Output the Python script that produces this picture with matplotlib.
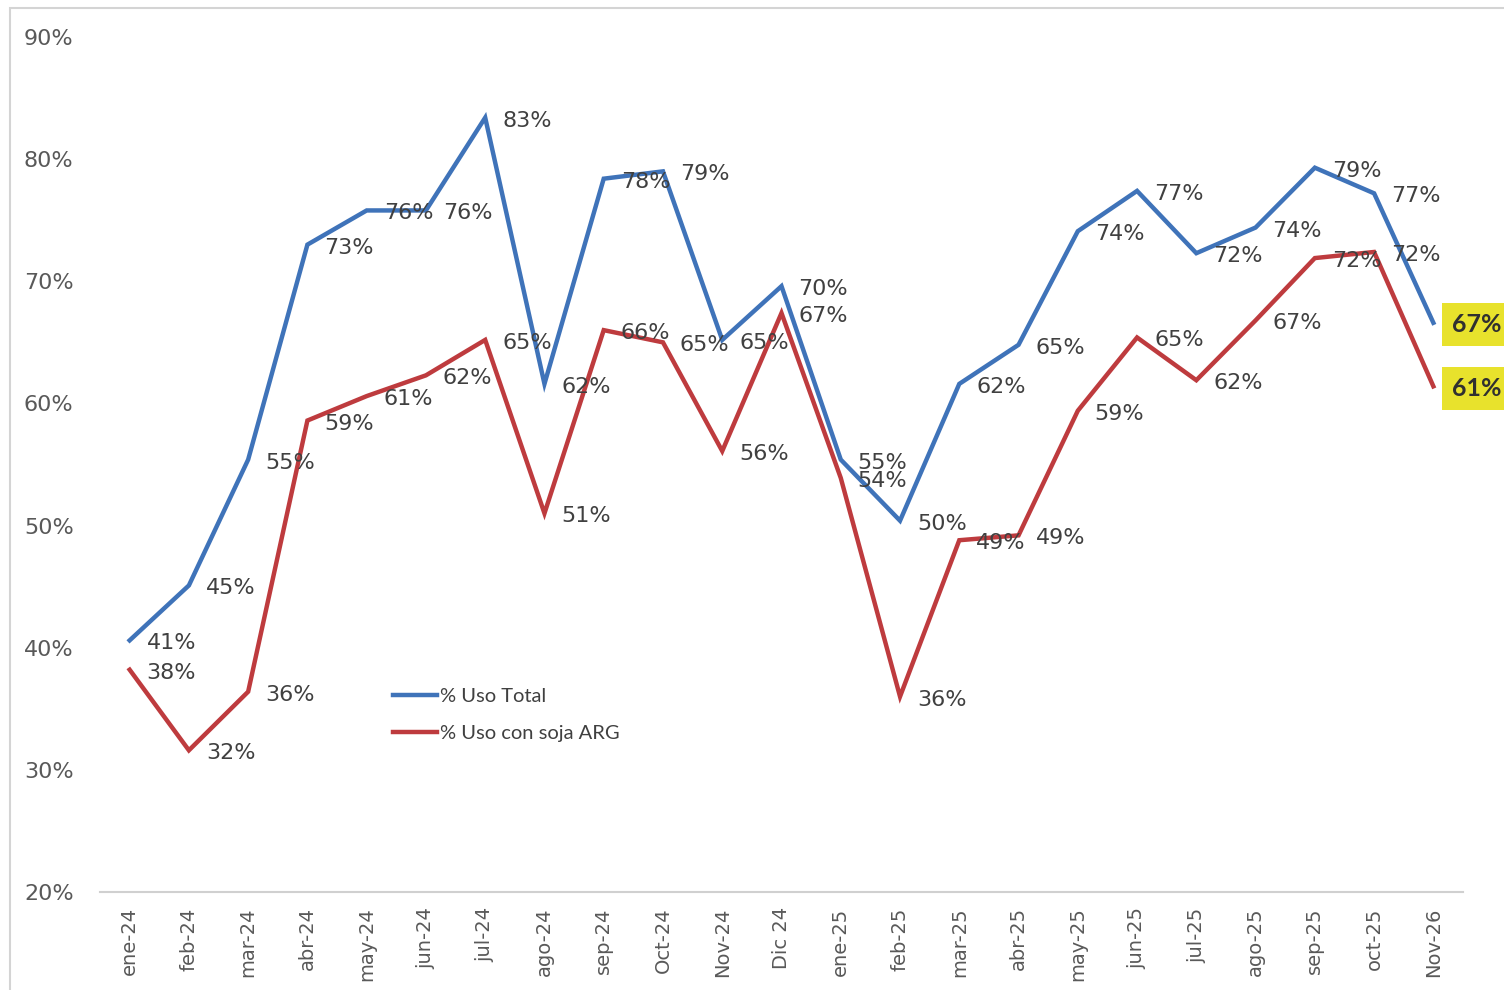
import matplotlib
matplotlib.use('Agg')
import matplotlib.pyplot as plt
from matplotlib.patches import Rectangle

months = ['ene-24', 'feb-24', 'mar-24', 'abr-24', 'may-24', 'jun-24', 'jul-24',
          'ago-24', 'sep-24', 'Oct-24', 'Nov-24', 'Dic 24', 'ene-25', 'feb-25',
          'mar-25', 'abr-25', 'may-25', 'jun-25', 'jul-25', 'ago-25', 'sep-25',
          'oct-25', 'Nov-26']
uso_total = [40.6, 45.1, 55.4, 73.0, 75.8, 75.8, 83.4, 61.6, 78.4, 79.0, 65.2, 69.6,
             55.4, 50.4, 61.6, 64.8, 74.1, 77.4, 72.3, 74.4, 79.3, 77.2, 66.6]
uso_soja = [38.2, 31.6, 36.4, 58.6, 60.6, 62.3, 65.2, 51.0, 66.0, 65.0, 56.1, 67.4,
            53.9, 36.0, 48.8, 49.2, 59.4, 65.4, 61.9, 66.8, 71.9, 72.4, 61.4]
series_names = ['% Uso Total', '% Uso con soja ARG']
y_ticks = [20, 30, 40, 50, 60, 70, 80, 90]

BLUE = '#3F73B9'
RED = '#BE3B3E'
TXT = '#404040'
GRAY = '#595959'

W, H = 1504, 990
fig = plt.figure(figsize=(W / 100, H / 100), dpi=100)
fig.patch.set_facecolor('white')

# chart border
fig.add_artist(Rectangle((10 / W, -0.05), 1.2, 1 - 8 / H + 0.05,
                         transform=fig.transFigure, fill=False,
                         edgecolor='#d4d4d4', linewidth=1.5))

ax = fig.add_axes([100 / W, 1 - 892 / H, (1463 - 100) / W, (892 - 37) / H])
x = list(range(len(months)))
ax.plot(x, uso_total, color=BLUE, lw=3.2, label=series_names[0], solid_joinstyle='miter')
ax.plot(x, uso_soja, color=RED, lw=3.2, label=series_names[1], solid_joinstyle='miter')

ax.set_xlim(-0.5, len(months) - 0.5)
ax.set_ylim(20, 90)
ax.set_yticks(y_ticks)
ax.set_yticklabels([f'{t}%' for t in y_ticks], fontsize=16, color=GRAY)
ax.set_xticks(x)
ax.set_xticklabels(months, rotation=90, fontsize=14, color=GRAY)
ax.tick_params(axis='y', length=0, pad=19)
ax.tick_params(axis='x', length=0, pad=11)
for s in ['top', 'right', 'left']:
    ax.spines[s].set_visible(False)
ax.spines['bottom'].set_color('#d0d0d0')
ax.spines['bottom'].set_linewidth(1.5)
ax.set_facecolor('none')

last = len(months) - 1
for series in (uso_total, uso_soja):
    for i, v in enumerate(series):
        if i == last:
            ax.annotate(f'{round(v)}%', (i, v), xytext=(19, -2), textcoords='offset pixels',
                        ha='left', va='center', fontsize=18, fontweight='bold',
                        color='#303030', family='Lato', annotation_clip=False,
                        bbox=dict(boxstyle='square,pad=0.4', facecolor='#E8E22C',
                                  edgecolor='none'))
        else:
            ax.annotate(f'{round(v)}%', (i, v), xytext=(17, -3), textcoords='offset pixels',
                        ha='left', va='center', fontsize=16, color=TXT,
                        family='DejaVu Sans')

leg = ax.legend(loc='upper left', bbox_to_anchor=((393 - 100) / (1363), (892 - 688) / 855),
                frameon=False, prop={'family': 'Lato', 'size': 14.5},
                handlelength=2.2, handletextpad=0.15, labelspacing=1.0,
                borderaxespad=0, borderpad=0)
for t in leg.get_texts():
    t.set_color(TXT)

fig.savefig('out.png', dpi=100)
